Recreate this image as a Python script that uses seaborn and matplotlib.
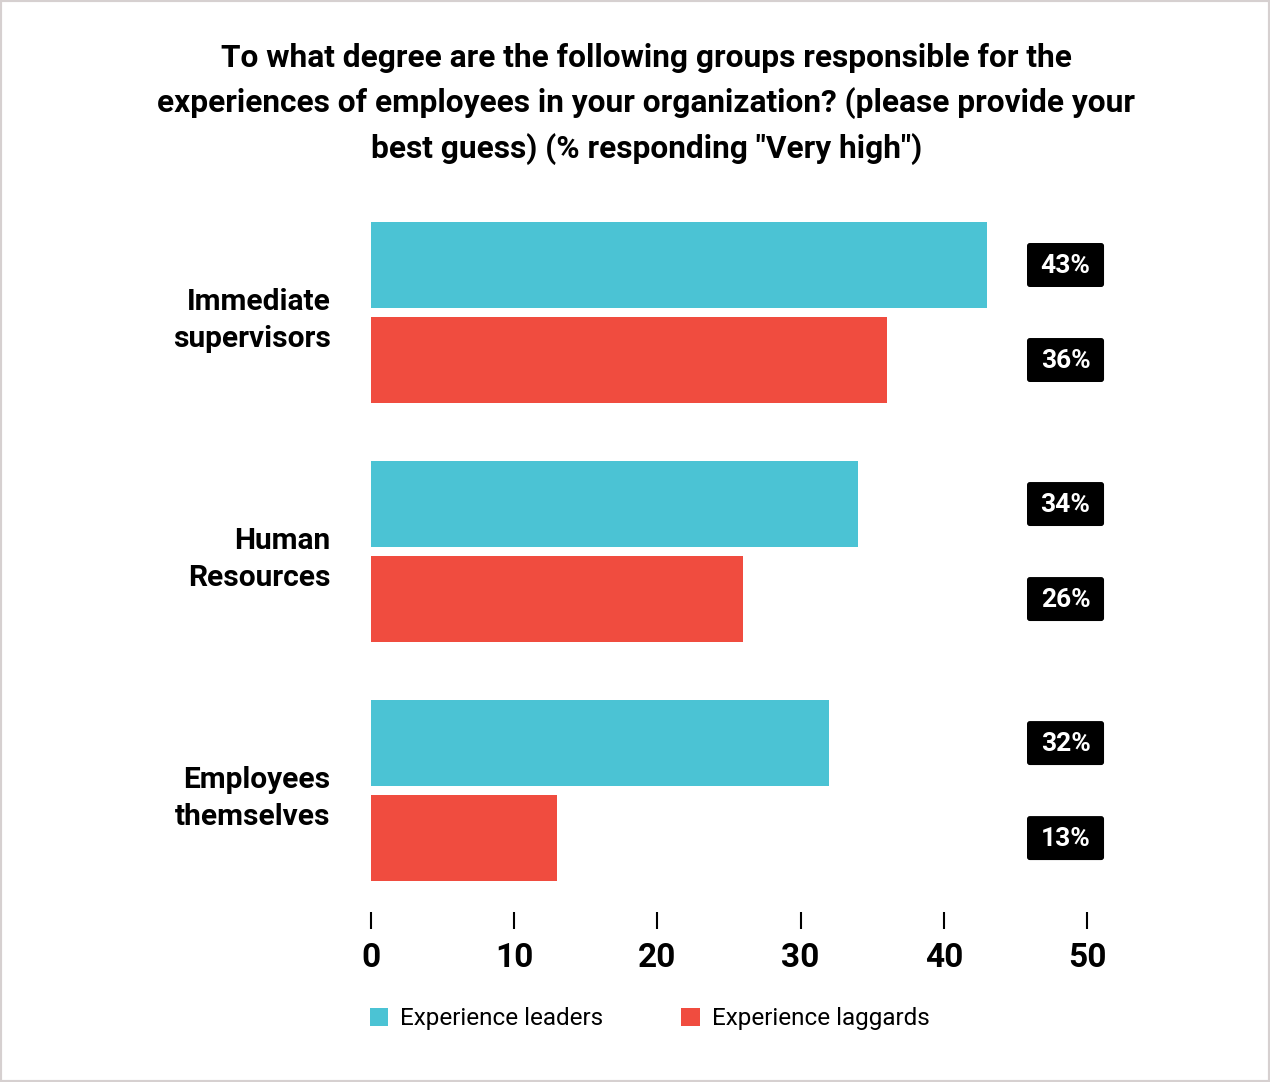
import matplotlib
matplotlib.use("Agg")
import matplotlib.pyplot as plt
from matplotlib.patches import FancyBboxPatch, Rectangle, Patch
import seaborn as sns
import pandas as pd

categories = ["Immediate\nsupervisors", "Human\nResources", "Employees\nthemselves"]
series_names = ["Experience leaders", "Experience laggards"]
leaders = [43, 34, 32]
laggards = [36, 26, 13]
xticks = [0, 10, 20, 30, 40, 50]
title = ('To what degree are the following groups responsible for the\n'
         'experiences of employees in your organization? (please provide your\n'
         'best guess) (% responding "Very high")')

colors = ["#4BC3D4", "#F04C3F"]

sns.set_style("white")
plt.rcParams["font.family"] = ["Roboto", "DejaVu Sans"]
plt.rcParams["text.color"] = "black"
plt.rcParams["xtick.color"] = "black"
plt.rcParams["ytick.color"] = "black"
plt.rcParams["axes.labelcolor"] = "black"

df = pd.DataFrame({
    "category": categories * 2,
    "value": leaders + laggards,
    "series": [series_names[0]] * 3 + [series_names[1]] * 3,
})

fig = plt.figure(figsize=(12.7, 10.82), dpi=100)
W, H = 1270, 1082
ax = fig.add_axes([371 / W, (H - 912) / H, (1087 - 371) / W, (912 - 200) / H])

sns.barplot(data=df, x="value", y="category", hue="series", hue_order=series_names,
            order=categories, palette=colors, orient="h", width=0.795, gap=0.094,
            ax=ax, legend=False, saturation=1, linewidth=0)

ax.set_xlim(0, 50)
ax.set_ylim(2.508, -0.4707)
for s in ax.spines.values():
    s.set_visible(False)
ax.set_xlabel("")
ax.set_ylabel("")
ax.set_xticks(xticks)
ax.set_xticklabels([str(t) for t in xticks], fontsize=24, fontweight="bold")
ax.tick_params(axis="x", direction="out", length=12.5, width=1.5, color="black",
               pad=9, bottom=True, labelcolor="black")
ax.tick_params(axis="y", length=0, pad=29, labelcolor="black")
for lab in ax.get_yticklabels():
    lab.set_fontsize(21.5)
    lab.set_fontweight("bold")
    lab.set_linespacing(1.42)
    lab.set_horizontalalignment("right")

# value label boxes
aspect = (1 / 239) / (1 / 14.32)
for cont in ax.containers:
    for bar in cont:
        yc = bar.get_y() + bar.get_height() / 2
        val = bar.get_width()
        box = FancyBboxPatch((45.81, yc - 0.092), 5.38, 0.184,
                             boxstyle="round,pad=0,rounding_size=0.2",
                             mutation_aspect=aspect, facecolor="black",
                             edgecolor="none", clip_on=False)
        ax.add_patch(box)
        ax.text(48.5, yc + 0.004, f"{val:.0f}%", color="white", fontsize=19,
                fontweight="bold", ha="center", va="center", clip_on=False)

fig.text(0.509, 1 - 104 / H, title, ha="center", va="center", fontsize=22.8,
         fontweight="bold", linespacing=1.55, color="black")

handles = [Patch(facecolor=c, edgecolor="none") for c in colors]
fig.legend(handles, series_names, loc="center left",
           bbox_to_anchor=(370 / W, 1 - 1019 / H), ncol=2, frameon=False,
           fontsize=17.5, handlelength=0.75, handleheight=0.75, handletextpad=0.5,
           columnspacing=3.2, borderpad=0, borderaxespad=0, labelcolor="black")

fig.patches.append(Rectangle((0, 0), 1, 1, transform=fig.transFigure, fill=False,
                             edgecolor="#d6d0d0", linewidth=3))

fig.savefig("out.png", dpi=100)
